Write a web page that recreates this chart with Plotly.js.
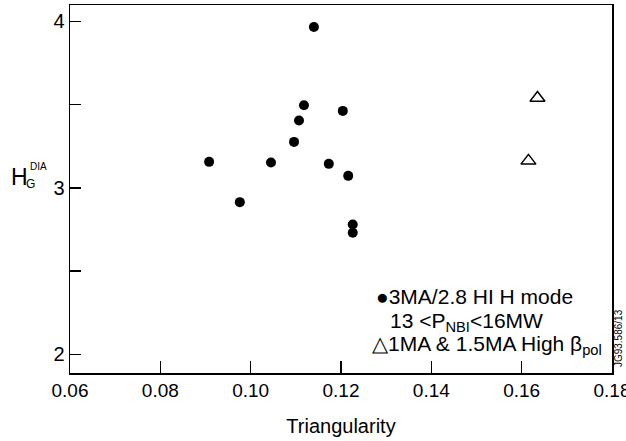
<!DOCTYPE html>
<html><head><meta charset="utf-8">
<script src="https://cdn.plot.ly/plotly-3.0.1.min.js"></script>
<style>html,body{margin:0;padding:0;background:#fff}</style>
</head><body>
<div id="chart" style="width:626px;height:441px"></div>
<script>
// H-mode 3MA/2.8T points
const hmodeTri = [0.0908, 0.0976, 0.1045, 0.1096, 0.1107, 0.1118, 0.1140, 0.1173, 0.1204, 0.1216, 0.1226, 0.1226];
const hmodeH   = [3.156, 2.914, 3.152, 3.276, 3.404, 3.496, 3.966, 3.144, 3.462, 3.072, 2.780, 2.730];
// High beta_pol points
const hbpTri = [0.1635, 0.1615];
const hbpH   = [3.54, 3.162];
const xTicks = [0.06, 0.08, 0.10, 0.12, 0.14, 0.16, 0.18];
const xTickText = ['0.06', '0.08', '0.10', '0.12', '0.14', '0.16', '0.18'];
const yTicks = [2, 2.5, 3, 3.5, 4];
const yTickText = ['2', '', '3', '', '4'];

const font = 'Liberation Sans, Arial, sans-serif';
const traces = [
  {x: hmodeTri, y: hmodeH, mode: 'markers', type: 'scatter', name: '3MA/2.8 HI H mode',
   marker: {symbol: 'circle', size: 10, color: '#000'}, cliponaxis: false},
  {x: hbpTri, y: hbpH, mode: 'markers', type: 'scatter', name: '1MA & 1.5MA High βpol',
   marker: {symbol: 'triangle-up-open', size: 13, color: '#000', line: {width: 1.5, color: '#000'}}, cliponaxis: false}
];
const layout = {
  width: 626, height: 441,
  margin: {l: 70, r: 14, t: 5, b: 68},
  paper_bgcolor: '#fff', plot_bgcolor: '#fff',
  showlegend: false,
  font: {family: font, color: '#000', size: 19},
  xaxis: {range: [0.06, 0.18], tickmode: 'array', tickvals: xTicks, ticktext: xTickText, ticks: 'inside', ticklen: 12,
          tickwidth: 1.5, tickcolor: '#000', showline: true, linecolor: '#000', linewidth: 1.5, mirror: true,
          ticklabeloverflow: 'allow',
          showgrid: false, zeroline: false, tickfont: {size: 19, family: font},
          title: {text: 'Triangularity', font: {size: 20, family: font}, standoff: 18}},
  yaxis: {range: [1.888, 4.098], tickmode: 'array', tickvals: yTicks, ticktext: yTickText, ticks: 'inside', ticklen: 11,
          tickwidth: 1.5, tickcolor: '#000', showline: true, linecolor: '#000', linewidth: 1.5, mirror: true,
          showgrid: false, zeroline: false, tickfont: {size: 20, family: font}},
  annotations: [
    {xref: 'paper', yref: 'paper', x: -0.0923, y: 0.5326, xanchor: 'center', yanchor: 'middle', showarrow: false,
     text: 'H', font: {size: 23, family: font}},
    {xref: 'paper', yref: 'paper', x: -0.0572, y: 0.5598, xanchor: 'center', yanchor: 'middle', showarrow: false,
     text: 'DIA', font: {size: 10, family: font}},
    {xref: 'paper', yref: 'paper', x: -0.0738, y: 0.5136, xanchor: 'center', yanchor: 'middle', showarrow: false,
     text: 'G', font: {size: 12, family: font}},
    {xref: 'paper', yref: 'paper', x: 0.561, y: 0.2092, xanchor: 'left', yanchor: 'middle', showarrow: false,
     text: '●3MA/2.8 HI H mode', font: {size: 21, family: font}},
    {xref: 'paper', yref: 'paper', x: 0.5867, y: 0.1386, xanchor: 'left', yanchor: 'middle', showarrow: false,
     text: '13 &lt;P<sub>NBI</sub>&lt;16MW', font: {size: 21, family: font}},
    {xref: 'paper', yref: 'paper', x: 0.5535, y: 0.0761, xanchor: 'left', yanchor: 'middle', showarrow: false,
     text: '△1MA &amp; 1.5MA High β<sub>pol</sub>', font: {size: 21, family: font}},
    {xref: 'paper', yref: 'paper', x: 1.0111, y: 0.095, xanchor: 'center', yanchor: 'middle', showarrow: false,
     textangle: -90, text: 'JG93.586/13', font: {size: 10, family: font}}
  ]
};
Plotly.newPlot('chart', traces, layout, {displayModeBar: false, staticPlot: true});
</script>
</body></html>
